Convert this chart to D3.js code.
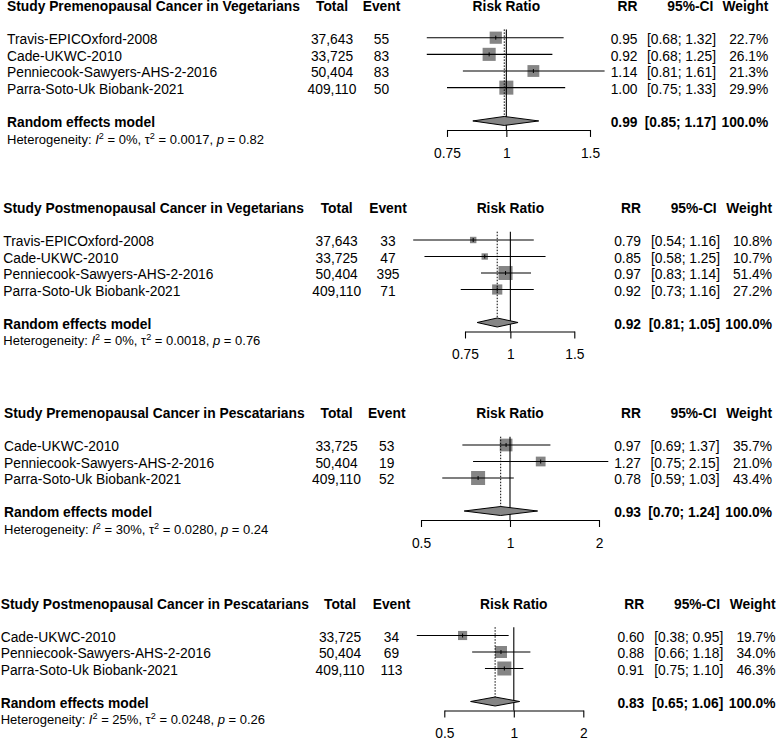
<!DOCTYPE html>
<html><head><meta charset="utf-8">
<script src="https://cdn.jsdelivr.net/npm/d3@7"></script>
<style>body{margin:0;background:#fff} svg{display:block}</style>
</head><body><svg id="chart" width="777" height="741"></svg>
<script>
// ---------------- data ----------------
const titles = [
  "Study Premenopausal Cancer in Vegetarians",
  "Study Postmenopausal Cancer in Vegetarians",
  "Study Premenopausal Cancer in Pescatarians",
  "Study Postmenopausal Cancer in Pescatarians"
];
const studiesVeg = ["Travis-EPICOxford-2008", "Cade-UKWC-2010", "Penniecook-Sawyers-AHS-2-2016", "Parra-Soto-Uk Biobank-2021"];
const totalsVeg = [37643, 33725, 50404, 409110];
const studiesPes = ["Cade-UKWC-2010", "Penniecook-Sawyers-AHS-2-2016", "Parra-Soto-Uk Biobank-2021"];
const totalsPes = [33725, 50404, 409110];

const events1 = [55, 83, 83, 50];
const rr1 = [0.95, 0.92, 1.14, 1.00];
const lo1 = [0.68, 0.68, 0.81, 0.75];
const hi1 = [1.32, 1.25, 1.61, 1.33];
const wt1 = [22.7, 26.1, 21.3, 29.9];
const re1 = [0.99, 0.85, 1.17];
const het1 = ["0%", "0.0017", "0.82"];
const ticks1 = [0.75, 1, 1.5];

const events2 = [33, 47, 395, 71];
const rr2 = [0.79, 0.85, 0.97, 0.92];
const lo2 = [0.54, 0.58, 0.83, 0.73];
const hi2 = [1.16, 1.25, 1.14, 1.16];
const wt2 = [10.8, 10.7, 51.4, 27.2];
const re2 = [0.92, 0.81, 1.05];
const het2 = ["0%", "0.0018", "0.76"];
const ticks2 = [0.75, 1, 1.5];

const events3 = [53, 19, 52];
const rr3 = [0.97, 1.27, 0.78];
const lo3 = [0.69, 0.75, 0.59];
const hi3 = [1.37, 2.15, 1.03];
const wt3 = [35.7, 21.0, 43.4];
const re3 = [0.93, 0.70, 1.24];
const het3 = ["30%", "0.0280", "0.24"];
const ticks3 = [0.5, 1, 2];

const events4 = [34, 69, 113];
const rr4 = [0.60, 0.88, 0.91];
const lo4 = [0.38, 0.66, 0.75];
const hi4 = [0.95, 1.18, 1.10];
const wt4 = [19.7, 34.0, 46.3];
const re4 = [0.83, 0.65, 1.06];
const het4 = ["25%", "0.0248", "0.26"];
const ticks4 = [0.5, 1, 2];

const panels = [
  {title: titles[0], studies: studiesVeg, totals: totalsVeg, events: events1, rr: rr1, lo: lo1, hi: hi1, wt: wt1, re: re1, het: het1, ticks: ticks1},
  {title: titles[1], studies: studiesVeg, totals: totalsVeg, events: events2, rr: rr2, lo: lo2, hi: hi2, wt: wt2, re: re2, het: het2, ticks: ticks2},
  {title: titles[2], studies: studiesPes, totals: totalsPes, events: events3, rr: rr3, lo: lo3, hi: hi3, wt: wt3, re: re3, het: het3, ticks: ticks3},
  {title: titles[3], studies: studiesPes, totals: totalsPes, events: events4, rr: rr4, lo: lo4, hi: hi4, wt: wt4, re: re4, het: het4, ticks: ticks4}
];

// ---------------- layout ----------------
const layouts = [
  {top: 4.4, step: 16.65, studyX: 7,   totalC: 332,   eventC: 381.5, rrR: 637.5, ciR: 716,   ciHR: 713.3, wR: 768.3, xr: [447, 590]},
  {top: 207, step: 16.5,  studyX: 3.3, totalC: 336.7, eventC: 388,   rrR: 641,   ciR: 720,   ciHR: 716.7, wR: 772,   xr: [465, 574.3]},
  {top: 412, step: 16.5,  studyX: 4,   totalC: 336.5, eventC: 386.7, rrR: 641,   ciR: 719.5, ciHR: 716.5, wR: 772,   xr: [421, 599]},
  {top: 602.5, step: 16.5, studyX: 0.7, totalC: 340,  eventC: 391.5, rrR: 644.3, ciR: 723.3, ciHR: 720,   wR: 775.5, xr: [444.3, 583.3]}
];

const FONT = "'Liberation Sans', Arial, Helvetica, sans-serif";
const FS = 13.8, HFS = 13;
const TB = 6.3; // text baseline offset from row centre
const BOXMAX = 14;
const GREY = "#858585";
const f2 = d3.format(".2f"), f1 = d3.format(".1f"), fc = d3.format(",");

const svg = d3.select("#chart");

panels.forEach((p, k) => {
  const L = layouts[k];
  const g = svg.append("g").attr("font-family", FONT).attr("font-size", FS).attr("fill", "#000");
  const x = d3.scaleLog().domain(d3.extent(p.ticks)).range(L.xr);
  const n = p.studies.length;
  const rowY = i => L.top + i * L.step;
  const yHead = rowY(0), yStudy = i => rowY(2 + i), yRE = rowY(n + 3), yHet = rowY(n + 4);
  const axisY = yRE + 9;
  const lineTop = yStudy(0) - 8.3;

  // header
  const head = g.append("g").attr("font-weight", "bold");
  head.append("text").attr("x", L.studyX).attr("y", yHead + TB).text(p.title);
  head.append("text").attr("x", L.totalC).attr("y", yHead + TB).attr("text-anchor", "middle").text("Total");
  head.append("text").attr("x", L.eventC).attr("y", yHead + TB).attr("text-anchor", "middle").text("Event");
  head.append("text").attr("x", x(1)).attr("y", yHead + TB).attr("text-anchor", "middle").text("Risk Ratio");
  head.append("text").attr("x", L.rrR).attr("y", yHead + TB).attr("text-anchor", "end").text("RR");
  head.append("text").attr("x", L.ciHR).attr("y", yHead + TB).attr("text-anchor", "end").text("95%-CI");
  head.append("text").attr("x", L.wR).attr("y", yHead + TB).attr("text-anchor", "end").text("Weight");

  // study rows text
  const rows = p.studies.map((s, i) => ({s, total: p.totals[i], ev: p.events[i], rr: p.rr[i], lo: p.lo[i], hi: p.hi[i], w: p.wt[i], i}));
  const rg = g.selectAll("g.row").data(rows).join("g").attr("class", "row");
  rg.append("text").attr("x", L.studyX).attr("y", d => yStudy(d.i) + TB).text(d => d.s);
  rg.append("text").attr("x", L.totalC).attr("y", d => yStudy(d.i) + TB).attr("text-anchor", "middle").text(d => fc(d.total));
  rg.append("text").attr("x", L.eventC).attr("y", d => yStudy(d.i) + TB).attr("text-anchor", "middle").text(d => d.ev);
  rg.append("text").attr("x", L.rrR).attr("y", d => yStudy(d.i) + TB).attr("text-anchor", "end").text(d => f2(d.rr));
  rg.append("text").attr("x", L.ciR).attr("y", d => yStudy(d.i) + TB).attr("text-anchor", "end").text(d => `[${f2(d.lo)}; ${f2(d.hi)}]`);
  rg.append("text").attr("x", L.wR).attr("y", d => yStudy(d.i) + TB).attr("text-anchor", "end").text(d => f1(d.w) + "%");

  // reference lines
  g.append("line").attr("x1", x(1)).attr("x2", x(1)).attr("y1", lineTop).attr("y2", axisY)
    .attr("stroke", "#000").attr("stroke-width", 1.1);
  g.append("line").attr("x1", x(p.re[0])).attr("x2", x(p.re[0])).attr("y1", lineTop).attr("y2", yRE)
    .attr("stroke", "#000").attr("stroke-width", 1).attr("stroke-dasharray", "1.5,1.5");

  // squares, CI lines, centre ticks
  const wmax = d3.max(p.wt);
  const size = w => BOXMAX * Math.sqrt(w / wmax);
  rg.append("rect")
    .attr("x", d => x(d.rr) - size(d.w) / 2).attr("y", d => yStudy(d.i) - size(d.w) / 2)
    .attr("width", d => size(d.w)).attr("height", d => size(d.w)).attr("fill", GREY);
  rg.append("line").attr("x1", d => x(d.lo)).attr("x2", d => x(d.hi))
    .attr("y1", d => yStudy(d.i)).attr("y2", d => yStudy(d.i)).attr("stroke", "#000").attr("stroke-width", 1.1);
  rg.append("line").attr("x1", d => x(d.rr)).attr("x2", d => x(d.rr))
    .attr("y1", d => yStudy(d.i) - 2).attr("y2", d => yStudy(d.i) + 2).attr("stroke", "#000").attr("stroke-width", 1);

  // random effects diamond
  const dh = 4.5;
  g.append("path")
    .attr("d", `M${x(p.re[1])},${yRE}L${x(p.re[0])},${yRE - dh}L${x(p.re[2])},${yRE}L${x(p.re[0])},${yRE + dh}Z`)
    .attr("fill", GREY).attr("stroke", "#000").attr("stroke-width", 1);

  const reg = g.append("g").attr("font-weight", "bold");
  reg.append("text").attr("x", L.studyX).attr("y", yRE + TB).text("Random effects model");
  reg.append("text").attr("x", L.rrR).attr("y", yRE + TB).attr("text-anchor", "end").text(f2(p.re[0]));
  reg.append("text").attr("x", L.ciR).attr("y", yRE + TB).attr("text-anchor", "end").text(`[${f2(p.re[1])}; ${f2(p.re[2])}]`);
  reg.append("text").attr("x", L.wR).attr("y", yRE + TB).attr("text-anchor", "end").text("100.0%");

  // heterogeneity
  const ht = g.append("text").attr("x", L.studyX).attr("y", yHet + 6.1).attr("font-size", HFS);
  ht.append("tspan").text("Heterogeneity: ");
  ht.append("tspan").attr("font-style", "italic").text("I");
  ht.append("tspan").attr("font-size", HFS * 0.7).attr("dy", -5).text("2");
  ht.append("tspan").attr("dy", 5).text(` = ${p.het[0]}, \u03c4`);
  ht.append("tspan").attr("font-size", HFS * 0.7).attr("dy", -5).text("2");
  ht.append("tspan").attr("dy", 5).text(` = ${p.het[1]}, `);
  ht.append("tspan").attr("font-style", "italic").text("p");
  ht.append("tspan").text(` = ${p.het[2]}`);

  // axis
  const axis = d3.axisBottom(x).tickValues(p.ticks).tickFormat(d => String(d))
    .tickSizeInner(7).tickSizeOuter(0).tickPadding(11.2);
  const ag = g.append("g").attr("transform", `translate(0,${axisY})`).call(axis)
    .attr("font-size", FS).attr("font-family", FONT);
  ag.select(".domain").attr("stroke", "#000").attr("stroke-width", 1.1);
  ag.selectAll(".tick line").attr("stroke", "#000").attr("stroke-width", 1.1);
  ag.selectAll(".tick text").attr("fill", "#000");
});
</script>
</body></html>
